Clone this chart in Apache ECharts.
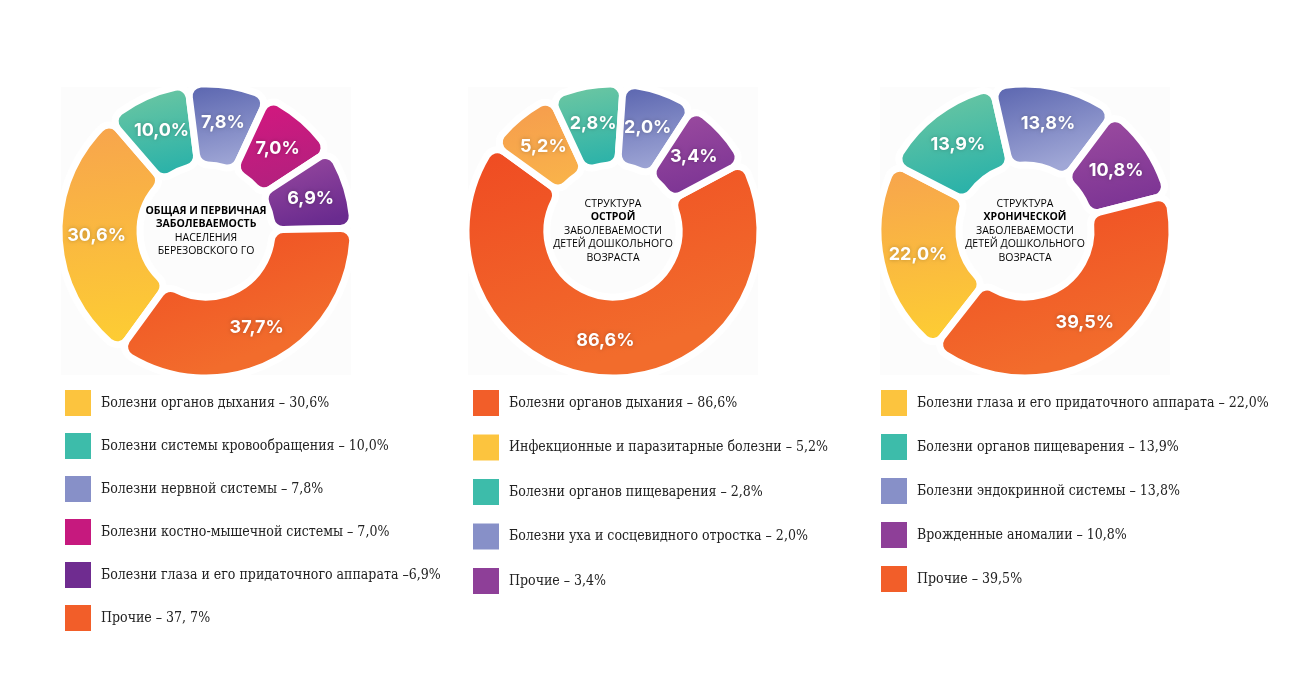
<!DOCTYPE html>
<html><head><meta charset="utf-8">
<script src="https://cdn.jsdelivr.net/npm/echarts@6/dist/echarts.min.js"></script>
<style>
html,body{margin:0;padding:0;background:#fff;width:1300px;height:700px;overflow:hidden;position:relative}
.c{position:absolute;top:0;left:0;width:1300px;height:700px}
</style></head>
<body>
<div id="c1" class="c"></div>
<div id="c2" class="c"></div>
<div id="c3" class="c"></div>
<script>
// ---------- DATA ----------
const names1 = ['Болезни органов дыхания', 'Болезни системы кровообращения', 'Болезни нервной системы', 'Болезни костно-мышечной системы', 'Болезни глаза и его придаточного аппарата', 'Прочие'];
const values1 = [30.6, 10.0, 7.8, 7.0, 6.9, 37.7];
const legend1 = ['Болезни органов дыхания – 30,6%', 'Болезни системы кровообращения – 10,0%', 'Болезни нервной системы – 7,8%', 'Болезни костно-мышечной системы – 7,0%', 'Болезни глаза и его придаточного аппарата –6,9%', 'Прочие – 37, 7%'];
const center1 = ['ОБЩАЯ И ПЕРВИЧНАЯ', 'ЗАБОЛЕВАЕМОСТЬ', 'НАСЕЛЕНИЯ', 'БЕРЕЗОВСКОГО ГО'];
const centerBold1 = [true, true, false, false];

const names2 = ['Болезни органов дыхания', 'Инфекционные и паразитарные болезни', 'Болезни органов пищеварения', 'Болезни уха и сосцевидного отростка', 'Прочие'];
const values2 = [86.6, 5.2, 2.8, 2.0, 3.4];
const legend2 = ['Болезни органов дыхания – 86,6%', 'Инфекционные и паразитарные болезни – 5,2%', 'Болезни органов пищеварения – 2,8%', 'Болезни уха и сосцевидного отростка – 2,0%', 'Прочие – 3,4%'];
const center2 = ['СТРУКТУРА', 'ОСТРОЙ', 'ЗАБОЛЕВАЕМОСТИ', 'ДЕТЕЙ ДОШКОЛЬНОГО', 'ВОЗРАСТА'];
const centerBold2 = [false, true, false, false, false];

const names3 = ['Болезни глаза и его придаточного аппарата', 'Болезни органов пищеварения', 'Болезни эндокринной системы', 'Врожденные аномалии', 'Прочие'];
const values3 = [22.0, 13.9, 13.8, 10.8, 39.5];
const legend3 = ['Болезни глаза и его придаточного аппарата – 22,0%', 'Болезни органов пищеварения – 13,9%', 'Болезни эндокринной системы – 13,8%', 'Врожденные аномалии – 10,8%', 'Прочие – 39,5%'];
const center3 = ['СТРУКТУРА', 'ХРОНИЧЕСКОЙ', 'ЗАБОЛЕВАЕМОСТИ', 'ДЕТЕЙ ДОШКОЛЬНОГО', 'ВОЗРАСТА'];
const centerBold3 = [false, true, false, false, false];

// ---------- STYLES ----------
const PAL = {
  yellow:  {top:'#F7A34E', bot:'#FDCD33', icon:'#FCC43E'},
  teal:    {top:'#74C9A1', bot:'#2BB2A9', icon:'#3DBCAA'},
  peri:    {top:'#5661AD', bot:'#A0A7D6', icon:'#8790C8'},
  magenta: {top:'#D6177F', bot:'#B2207E', icon:'#C6197E'},
  purple:  {top:'#9D4CA0', bot:'#6A2B8F', icon:'#6F2C90'},
  orange:  {top:'#EF4A22', bot:'#F26C2C', icon:'#F25E29'},
  orangeS: {top:'#F59A4E', bot:'#F9B24A', icon:'#FCC43E'},
  lilac:   {top:'#9E4DA0', bot:'#7C3494', icon:'#8E3F98'}
};
const colors1 = ['yellow','teal','peri','magenta','purple','orange'];
const colors2 = ['orange','orangeS','teal','peri','lilac'];
const colors3 = ['yellow','teal','peri','lilac','orange'];

function grad(p){
  return new echarts.graphic.LinearGradient(0,0,0.25,1,[{offset:0,color:p.top},{offset:1,color:p.bot}]);
}
function fmt(v){ return v.toFixed(1).replace('.', ',') + '%'; }

function build(domId, names, values, legendText, colorKeys, centerLines, bold, opts){
  const el = document.getElementById(domId);
  const chart = echarts.init(el, null, {renderer:'canvas'});
  const cx = opts.cx, cy = 231;
  const data = names.map((n,i)=>({name:n, value:values[i], itemStyle:{color:grad(PAL[colorKeys[i]])}}));
  const lmap = {}; names.forEach((n,i)=>lmap[n]=legendText[i]);
  const rich = {
    b:{fontFamily:'Open Sans', fontWeight:700, fontSize:10.5, color:'#222', lineHeight:13.5, align:'center'},
    r:{fontFamily:'Open Sans', fontWeight:400, fontSize:10.5, color:'#555', lineHeight:13.5, align:'center'}
  };
  const ctext = centerLines.map((t,i)=>'{'+(bold[i]?'b':'r')+'|'+t+'}').join('\n');
  chart.setOption({
    backgroundColor:'transparent',
    animation:false,
    graphic:[
      {type:'rect', z:-10, shape:{x:cx-145, y:87, width:290, height:288}, style:{fill:'#fcfcfc'}},
      {type:'text', z:100, x:cx, y:cy, style:{text:ctext, rich:rich, align:'center', verticalAlign:'middle'}}
    ],
    legend:{
      orient:'vertical', left: opts.legendLeft, top:388, padding:0,
      itemWidth:28, itemHeight:28, itemGap: opts.gap, icon:'rect',
      selectedMode:false,
      data: names.map((n,i)=>({name:n, itemStyle:{color:PAL[colorKeys[i]].icon}})),
      formatter: n => lmap[n],
      textStyle:{fontFamily:'DejaVu Serif Condensed, DejaVu Serif', fontSize:14, color:'#222', padding:[0,0,0,4]}
    },
    series:[{
      type:'pie',
      center:[cx, cy],
      radius:[66, 147],
      startAngle: opts.startAngle,
      minAngle: opts.minAngle || 0,
      clockwise:true,
      avoidLabelOverlap:false,
      itemStyle:{borderColor:'#ffffff', borderWidth:7, borderRadius:12},
      label:{show:true, position:'inside', formatter: p => fmt(p.value),
        color:'#fff', fontFamily:'Inter', fontWeight:700, fontSize:18,
        textShadowColor:'rgba(0,0,0,0.25)', textShadowBlur:4},
      labelLine:{show:false},
      emphasis:{disabled:true},
      data:data
    }]
  });
}

build('c1', names1, values1, legend1, colors1, center1, centerBold1, {cx:206, startAngle:234, minAngle:32, legendLeft:63, gap:13});
build('c2', names2, values2, legend2, colors2, center2, centerBold2, {cx:613, startAngle:28, minAngle:29, legendLeft:471, gap:14.5});
build('c3', names3, values3, legend3, colors3, center3, centerBold3, {cx:1025, startAngle:232, minAngle:0, legendLeft:879, gap:14});
</script>
</body></html>
